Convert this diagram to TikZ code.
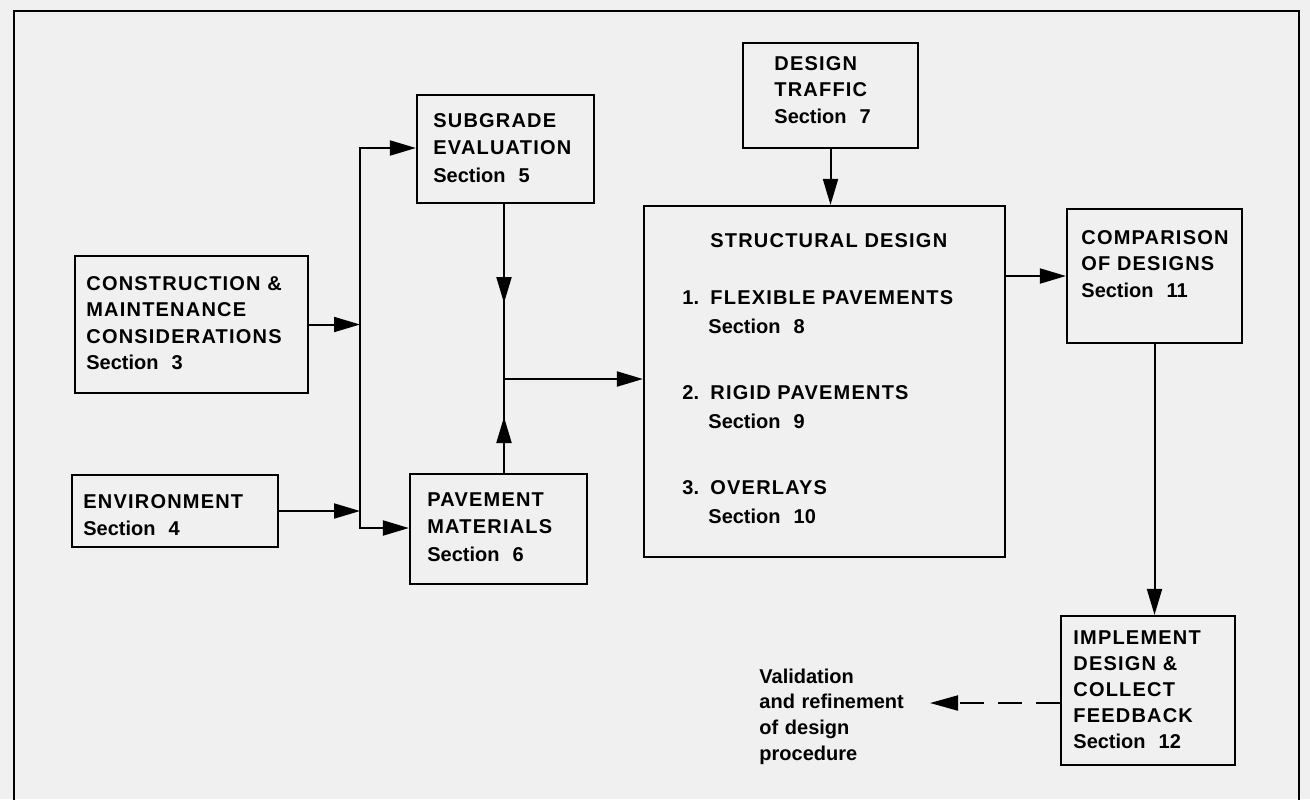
\documentclass[tikz,border=0pt]{standalone}
\usepackage{fontspec}
\setmainfont{Liberation Sans}
\usetikzlibrary{arrows.meta,fit,calc}
\newcommand\W[1]{{\addfontfeature{LetterSpace=6}#1}}
\newcommand\sct[1]{Section\hspace{0.65em}#1}
\tikzset{
  blk/.style={draw=black, line width=1.1pt, inner sep=0pt},
  lbl/.style={anchor=base west, inner sep=0pt, align=left, text width=180pt,
    font=\fontsize{10}{#1}\selectfont\bfseries},
  lbl/.default=13.25pt,
  wire/.style={line width=1pt, line cap=rect},
  arw/.style={wire, -{Triangle[length=13pt,width=7.5pt]}},
  fbarw/.style={line width=1pt, dash pattern=on 12pt off 7pt, -{Triangle[length=14pt,width=7.5pt]}},
  border/.style={line width=1.3pt}
}
\begin{document}
\begin{tikzpicture}[x=0.5pt,y=-0.5pt]
\useasboundingbox (0,0) rectangle (1310,799);
\fill[black!6] (0,0) rectangle (1310,799);
\draw[border] (14,800) -- (14,11) -- (1299,11) -- (1299,800);

% boxes
\node[blk, fit={(75,256) (308,393)}] (con) {};
\node[blk, fit={(72,475) (278,547)}] (env) {};
\node[blk, fit={(417,95) (594,203)}] (sub) {};
\node[blk, fit={(410,474) (587,584)}] (pav) {};
\node[blk, fit={(743,43) (918,148)}] (tra) {};
\node[blk, fit={(644,206) (1005,557)}] (str) {};
\node[blk, fit={(1067,209) (1242,343)}] (cmp) {};
\node[blk, fit={(1061,616) (1235,765)}] (imp) {};

% texts
\node[lbl] (conT) at (86,290) {\W{CONSTRUCTION \&}\\\W{MAINTENANCE}\\\W{CONSIDERATIONS}\\\sct{3}};
\node[lbl=13.5pt] (envT) at (83,508) {\W{ENVIRONMENT}\\\sct{4}};
\node[lbl=13.75pt] (subT) at (433,127) {\W{SUBGRADE}\\\W{EVALUATION}\\\sct{5}};
\node[lbl=13.75pt] (pavT) at (427,506) {\W{PAVEMENT}\\\W{MATERIALS}\\\sct{6}};
\node[lbl] (traT) at (774,70) {\W{DESIGN}\\\W{TRAFFIC}\\\sct{7}};
\node[lbl] (strT) at (710,247) {\W{STRUCTURAL DESIGN}};
\node[lbl=14.5pt] (str1) at (682,304) {\makebox[14pt][l]{1.}\W{FLEXIBLE PAVEMENTS}\\\hspace*{13pt}\sct{8}};
\node[lbl=14.5pt] (str2) at (682,399) {\makebox[14pt][l]{2.}\W{RIGID PAVEMENTS}\\\hspace*{13pt}\sct{9}};
\node[lbl=14.5pt] (str3) at (682,494) {\makebox[14pt][l]{3.}\W{OVERLAYS}\\\hspace*{13pt}\sct{10}};
\node[lbl] (cmpT) at (1081,244) {\W{COMPARISON}\\\W{OF DESIGNS}\\\sct{11}};
\node[lbl=13pt] (impT) at (1073,644) {\W{IMPLEMENT}\\\W{DESIGN \&}\\\W{COLLECT}\\\W{FEEDBACK}\\\sct{12}};
\node[lbl=12.85pt] (val) at (759,683) {Validation\\and refinement\\of design\\procedure};

% connectors
\coordinate (busT) at (360,148);
\coordinate (busB) at (360,528);
\draw[wire] (busT) -- (busB);
\draw[arw] (busT) -- (busT -| sub.west);
\draw[arw] (busB) -- (busB -| pav.west);
\draw[arw] (con.east) -- (con.east -| busT);
\draw[arw] (env.east) -- (env.east -| busT);

\coordinate (junc) at (504,379);
\coordinate (subTip) at (504,303);
\coordinate (pavTip) at (504,417);
\draw[wire] (sub.south -| junc) -- (junc);
\draw[arw] (sub.south -| junc) -- (subTip);
\draw[wire] (pav.north -| junc) -- (junc);
\draw[arw] (pav.north -| junc) -- (pavTip);
\draw[arw] (junc) -- (junc -| str.west);

\draw[arw] (tra.south) -- (tra.south |- str.north);
\draw[arw] (cmp.west -| str.east) -- (cmp.west);
\draw[arw] (cmp.south) -- (cmp.south |- imp.north);

\coordinate (vtip) at (930,703);
\draw[fbarw] (vtip -| imp.west) -- (vtip);
\end{tikzpicture}
\end{document}
